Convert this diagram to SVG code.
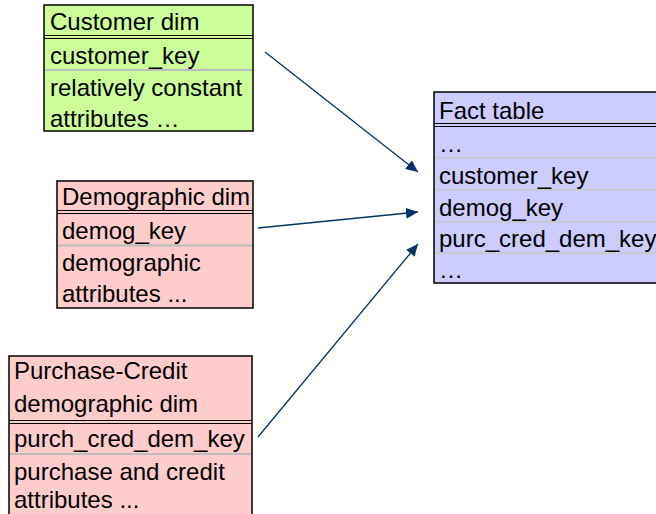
<svg xmlns="http://www.w3.org/2000/svg" width="656" height="514" viewBox="0 0 656 514">
  <style>
    .t { font-family: "Liberation Sans", Arial, sans-serif; font-size: 24px; fill: #000; }
    .box { stroke: #000; stroke-width: 1.5; }
    .dbl { stroke: #000; stroke-width: 1.2; }
    .sep { stroke: #bcbcbc; stroke-width: 2; }
    .sepf { stroke: #c4c4a8; stroke-width: 1.2; }
    .conn { stroke: #003366; stroke-width: 1.3; fill: none; marker-end: url(#head); }
  </style>
  <defs>
    <marker id="head" markerUnits="userSpaceOnUse" markerWidth="13" markerHeight="11" refX="12" refY="5.5" orient="auto">
      <path d="M0,0 L12,5.5 L0,11 Z" fill="#003366"/>
    </marker>
  </defs>
  <rect width="656" height="514" fill="#fff"/>

  <!-- Customer dimension -->
  <g id="customer-dim">
    <rect class="box" x="44" y="5" width="209" height="126" fill="#ccff99"/>
    <text class="t" x="50" y="30">Customer dim</text>
    <line class="dbl" x1="44" y1="35.5" x2="253" y2="35.5"/>
    <line class="dbl" x1="44" y1="38.5" x2="253" y2="38.5"/>
    <text class="t" x="50" y="64">customer_key</text>
    <line class="sep" x1="45" y1="70" x2="252" y2="70"/>
    <text class="t" x="50" y="96">relatively constant</text>
    <text class="t" x="50" y="127">attributes …</text>
  </g>

  <!-- Demographic dimension -->
  <g id="demographic-dim">
    <rect class="box" x="57" y="181" width="196" height="127" fill="#ffcccc"/>
    <text class="t" x="62" y="205">Demographic dim</text>
    <line class="dbl" x1="57" y1="210.5" x2="253" y2="210.5"/>
    <line class="dbl" x1="57" y1="213.5" x2="253" y2="213.5"/>
    <text class="t" x="62" y="239">demog_key</text>
    <line class="sep" x1="58" y1="245.5" x2="252" y2="245.5"/>
    <text class="t" x="62" y="271">demographic</text>
    <text class="t" x="62" y="302">attributes ...</text>
  </g>

  <!-- Purchase-Credit demographic dimension -->
  <g id="purchase-credit-dim">
    <rect class="box" x="9" y="356" width="243" height="170" fill="#ffcccc"/>
    <text class="t" x="14" y="379">Purchase-Credit</text>
    <text class="t" x="14" y="412">demographic dim</text>
    <line class="dbl" x1="9" y1="420.5" x2="252" y2="420.5"/>
    <line class="dbl" x1="9" y1="423.5" x2="252" y2="423.5"/>
    <text class="t" x="14" y="447">purch_cred_dem_key</text>
    <line class="sep" x1="10" y1="454" x2="251" y2="454"/>
    <text class="t" x="14" y="480">purchase and credit</text>
    <text class="t" x="14" y="508">attributes ...</text>
  </g>

  <!-- Fact table -->
  <g id="fact-table">
    <rect class="box" x="434" y="92" width="240" height="191" fill="#ccccff"/>
    <text class="t" x="439" y="118.5">Fact table</text>
    <line class="dbl" x1="434" y1="123.5" x2="656" y2="123.5"/>
    <line class="dbl" x1="434" y1="126.5" x2="656" y2="126.5"/>
    <text class="t" x="439" y="152">…</text>
    <line class="sepf" x1="435" y1="158" x2="656" y2="158"/>
    <text class="t" x="439" y="184">customer_key</text>
    <line class="sepf" x1="435" y1="190" x2="656" y2="190"/>
    <text class="t" x="439" y="216">demog_key</text>
    <line class="sepf" x1="435" y1="222" x2="656" y2="222"/>
    <text class="t" x="439" y="247">purc_cred_dem_key</text>
    <line class="sepf" x1="435" y1="253" x2="656" y2="253"/>
    <text class="t" x="439" y="278">…</text>
  </g>

  <!-- Connectors: dimension keys to fact table -->
  <g id="connectors">
    <line class="conn" x1="265" y1="52" x2="418" y2="172"/>
    <line class="conn" x1="258" y1="228" x2="418" y2="212"/>
    <line class="conn" x1="258" y1="437" x2="418" y2="244"/>
  </g>
</svg>
